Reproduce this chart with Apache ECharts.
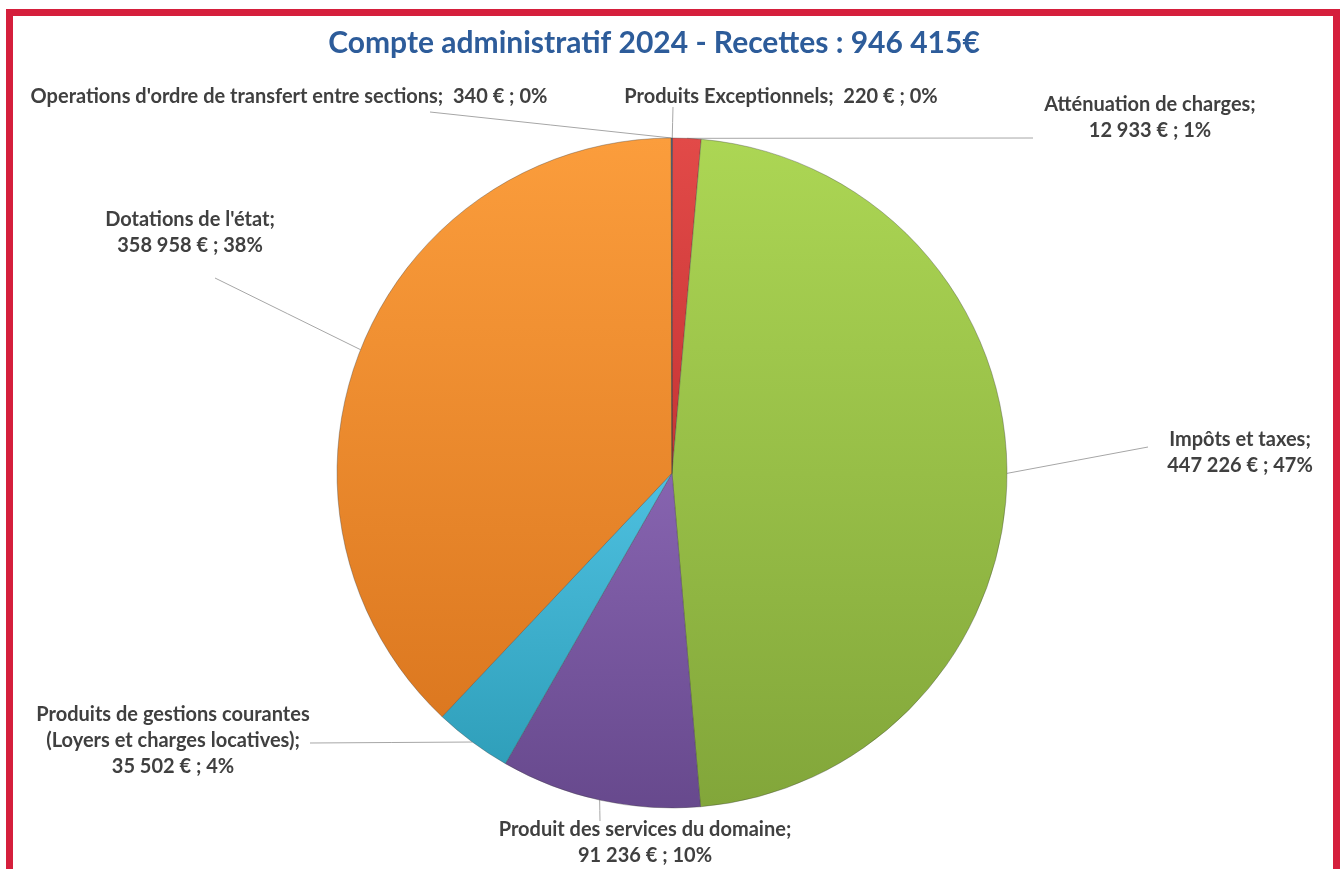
<!DOCTYPE html>
<html><head><meta charset="utf-8">
<script src="https://cdn.jsdelivr.net/npm/echarts@6/dist/echarts.min.js"></script>
<style>
html,body{margin:0;padding:0;background:#fff;overflow:hidden}
#chart{position:absolute;left:0;top:0;width:1340px;height:869px}
#frame{position:absolute;left:6px;top:9px;width:1334px;height:900px;border:7px solid #d51f3c;border-bottom:none;box-sizing:border-box;pointer-events:none}
</style></head><body>
<div id="chart"></div><div id="frame"></div>
<script>
const titleText = 'Compte administratif 2024 - Recettes : 946 415€';
const categories = [
  'Produits Exceptionnels',
  'Atténuation de charges',
  'Impôts et taxes',
  'Produit des services du domaine',
  'Produits de gestions courantes\n(Loyers et charges locatives)',
  "Dotations de l'état",
  "Operations d'ordre de transfert entre sections"
];
const values = [220, 12933, 447226, 91236, 35502, 358958, 340];

// styling (not data)
const singleLine = [true, false, false, false, false, false, true];
const gradients = [
  ['#5b8dc9', '#416fa8'],
  ['#e24a48', '#c63434'],
  ['#acd654', '#82a63a'],
  ['#8764b0', '#67498d'],
  ['#4ec0e0', '#2f9fba'],
  ['#fb9d3c', '#dc7820'],
  ['#3a5f8f', '#2c4d75']
];
const labelPos = [
  {x: 781, y: 97, end: [673, 107]},
  {x: 1150, y: 118, end: [1033, 138]},
  {x: 1240, y: 453, end: [1148, 447]},
  {x: 645, y: 843, end: [600, 821]},
  {x: 173, y: 741, end: [310, 743]},
  {x: 190, y: 233, end: [215, 278]},
  {x: 289, y: 97, end: [430, 112]}
];

const total = values.reduce((a, b) => a + b, 0);
function fmt(v) { return String(v).replace(/\B(?=(\d{3})+(?!\d))/g, ' '); }

const data = categories.map((name, i) => ({
  name: name,
  value: values[i],
  itemStyle: {
    color: new echarts.graphic.LinearGradient(0, 0, 0, 1, [
      {offset: 0, color: gradients[i][0]},
      {offset: 1, color: gradients[i][1]}
    ])
  }
}));

const chart = echarts.init(document.getElementById('chart'), null, {renderer: 'canvas'});
chart.setOption({
  animation: false,
  backgroundColor: 'transparent',
  title: {
    text: titleText,
    left: 654,
    top: 28,
    padding: 0,
    textAlign: 'center',
    textStyle: {fontFamily: 'Lato', fontWeight: 'bold', fontSize: 30, color: '#2d5c9a'}
  },
  series: [{
    type: 'pie',
    center: [672, 473],
    radius: 335,
    startAngle: 90,
    clockwise: true,
    avoidLabelOverlap: false,
    minShowLabelAngle: 0,
    data: data,
    itemStyle: {borderColor: 'rgba(60,60,60,0.35)', borderWidth: 1},
    emphasis: {disabled: true},
    label: {
      show: true,
      position: 'outside',
      fontFamily: 'Lato',
      fontWeight: 'bold',
      fontSize: 20,
      lineHeight: 26,
      color: '#404040',
      align: 'center',
      formatter: function (p) {
        const i = p.dataIndex;
        const pct = Math.round(values[i] / total * 100);
        return p.name + ';' + (singleLine[i] ? '  ' : '\n') + fmt(values[i]) + ' € ; ' + pct + '%';
      }
    },
    labelLine: {
      show: true,
      length: 20,
      length2: 20,
      smooth: false,
      lineStyle: {color: '#a6a6a6', width: 1}
    },
    labelLayout: function (params) {
      const lp = labelPos[params.dataIndex];
      const pts = params.labelLinePoints;
      const start = pts && pts[0] ? pts[0] : lp.end;
      const mid = [(start[0] + lp.end[0]) / 2, (start[1] + lp.end[1]) / 2];
      return {
        x: lp.x,
        y: lp.y,
        align: 'center',
        verticalAlign: 'middle',
        labelLinePoints: [start, mid, lp.end]
      };
    }
  }]
});
</script>
</body></html>
